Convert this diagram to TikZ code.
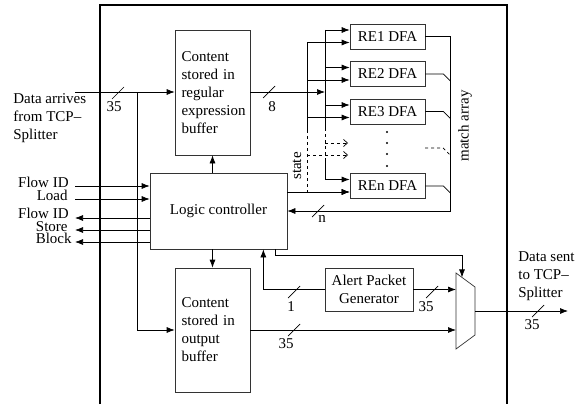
\documentclass[tikz,border=0pt]{standalone}
\usepackage{fontspec}
\setmainfont{Liberation Serif}
\usetikzlibrary{arrows.meta, positioning}

\begin{document}
\begin{tikzpicture}[
  x=1pt, y=-1pt, line width=0.7pt,
  every node/.style={font=\fontsize{15}{18}\selectfont, inner sep=0pt},
  blk/.style={draw=black!80, minimum width=75pt, align=left,
              text width=62pt, inner xsep=6.5pt},
  dfa/.style={draw=black!80, minimum width=75pt, minimum height=25pt},
  arr/.style={-{Latex[length=8pt,width=6pt]}},
  darr/.style={dashed, -{Straight Barb[length=4pt,width=7pt]}},
  slash/.pic={\draw (-6,6) -- (6,-6);}
]
  \useasboundingbox (0,0) rectangle (580,404);

  % chip boundary
  \draw[line width=2.5pt] (100,404) -- (100,5) -- (507,5) -- (507,404);

  % buffers and controller
  \node[blk, minimum height=125pt] (rebuf) at (212.5,92.5)
    {Content\\stored in\\regular\\expression\\buffer};
  \node[blk, minimum height=124pt] (outbuf) at (212.5,330)
    {Content\\stored in\\output\\buffer};
  \node[draw=black!80, minimum width=137pt, minimum height=76pt] (logic)
    at (218.5,211) {Logic controller};
  \node[draw=black!80, minimum width=88pt, minimum height=43pt, align=center]
    (apg) at (369,289.5) {Alert Packet\\Generator};

  % DFA engines
  \foreach \i/\y in {1/36.5, 2/74, 3/111.5, n/186} {
    \node[dfa] (dfa\i) at (387.5,\y) {RE\i{} DFA};
    \coordinate (u\i) at ([yshift=6.5pt]dfa\i.west);
    \coordinate (l\i) at ([yshift=-6pt]dfa\i.west);
  }
  \foreach \y in {132,143,154,166}
    \fill (387,\y) circle (1.2pt);

  % mux
  \coordinate (mtl) at (456,273);
  \coordinate (mtop) at (462,277.4);
  \coordinate (mout) at (475,311);
  \draw[black!80] (mtl) -- (475,287) -- (475,335) -- (456,349) -- cycle;

  % data input
  \coordinate (din) at (75,92);
  \coordinate (br) at (137,92);
  \coordinate (ba) at (325,92);
  \coordinate (bb) at (307,0);
  \draw[arr] (din) -- (din -| rebuf.west);
  \draw[arr] (br) |- (outbuf.west);
  \draw[arr] (rebuf.east |- din) -- (ba);

  % buses to the DFAs
  \draw (u1 -| ba) -- (325,128);
  \draw[dashed] (325,128) -- (325,158);
  \draw (325,158) -- (un -| ba);
  \draw (l1 -| bb) -- (307,130);
  \draw[dashed] (307,130) -- (ln -| bb);
  \foreach \i in {1,2,3,n} {
    \draw[arr] (u\i -| ba) -- (u\i);
    \draw[arr] (l\i -| bb) -- (l\i);
  }
  \draw[arr] (logic.east |- ln) -- (ln);
  \draw[darr] (325,143) -- (348,143);
  \draw[darr] (307,155) -- (348,155);

  % match array
  \coordinate (mc) at (450,211);
  \draw[arr] (dfa1.east) -| (mc) -- (mc -| logic.east);
  \foreach \i in {2,3,n}
    \draw (dfa\i.east) -- ++(18,0) -- ++(7,7);
  \draw[dashed] (425,148) -- (443,148) -- (450,155);

  % controller links
  \draw[arr] (logic.north -| rebuf.south) -- (rebuf.south);
  \draw[arr] (logic.south -| outbuf.north) -- (outbuf.north);
  \draw[arr] ([xshift=-12pt]logic.south east) -- ++(0,6) -| (mtop);
  \draw[arr] (apg.west) -| ([xshift=-24pt]logic.south east);
  \draw[arr] (apg.east) -- (apg.east -| mtl);
  \draw[arr] (outbuf.east) -- (outbuf.east -| mtl);
  \coordinate (dout) at (568,311);
  \draw[arr] (mout) -- (dout);

  % side signals
  \foreach \nm/\y in {fidin/186, ldin/199} {
    \coordinate (\nm) at (75,\y);
    \draw[arr] (\nm) -- (\nm -| logic.west);
  }
  \foreach \nm/\y in {fidout/218, stout/230, blout/242} {
    \coordinate (\nm) at (75,\y);
    \draw[arr] (\nm -| logic.west) -- (\nm);
  }
  \node[anchor=base east] (lfidin) at (69,187) {Flow ID};
  \node[anchor=base east] (lldin) at (68,200) {Load};
  \node[anchor=base east] (lfidout) at (69,218) {Flow ID};
  \node[anchor=base east] (lstout) at (68,231) {Store};
  \node[anchor=base east] (lblout) at (72,243) {Block};

  % bus widths
  \pic at (118,93) {slash};   \node (w35a) at (114,107) {35};
  \pic at (269,92) {slash};   \node (w8) at (272,107) {8};
  \pic at (318,211) {slash};  \node (wn) at (322,219) {n};
  \pic at (294,292) {slash};  \node (w1) at (291,307) {1};
  \pic at (432,292) {slash};  \node (w35b) at (426,307) {35};
  \pic at (294,330) {slash};  \node (w35c) at (286,344) {35};
  \pic at (538,311) {slash};  \node (w35d) at (532,325) {35};

  % other labels
  \node[anchor=west, align=left] (lin) at (13,118.5)
    {Data arrives\\from TCP--\\Splitter};
  \node[anchor=west, align=left] (lout) at (518,276)
    {Data sent\\to TCP--\\Splitter};
  \node[rotate=90] (lstate) at (297,166) {state};
  \node[rotate=90] (lmatch) at (465,126) {match array};
\end{tikzpicture}
\end{document}
